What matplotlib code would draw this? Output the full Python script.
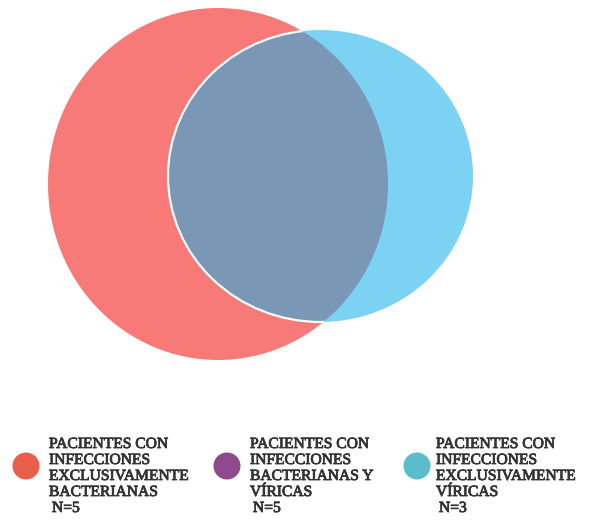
import matplotlib
matplotlib.use("Agg")
import matplotlib.pyplot as plt
import matplotlib.patheffects as pe
from matplotlib.patches import Ellipse, Circle

# groups (Venn: bacterial only, both, viral only)
group_labels = [
    ["PACIENTES CON", "INFECCIONES", "EXCLUSIVAMENTE", "BACTERIANAS"],
    ["PACIENTES CON", "INFECCIONES", "BACTERIANAS Y", "VÍRICAS"],
    ["PACIENTES CON", "INFECCIONES", "EXCLUSIVAMENTE", "VÍRICAS"],
]
group_counts = [5, 5, 3]
legend_colors = ["#e8604c", "#8e4a8c", "#5bbccc"]

red_fill = "#f87a78"
blue_fill = "#7cd2f2"
overlap_fill = "#7b97b6"
text_col = "#333333"

fig = plt.figure(figsize=(5.95, 5.29), dpi=100)
ax = fig.add_axes([0, 0, 1, 1])
ax.set_xlim(0, 595)
ax.set_ylim(529, 0)
ax.set_aspect("equal")
ax.axis("off")

# bacterial set
red = Ellipse((218, 184), 340, 352, facecolor=red_fill, edgecolor="none", zorder=1)
ax.add_patch(red)
# viral set
blue = Ellipse((320.5, 176), 305, 292, facecolor=blue_fill, edgecolor="none", zorder=1)
ax.add_patch(blue)

# overlap = viral clipped by bacterial
ov = Ellipse((320.5, 176), 305, 292, facecolor=overlap_fill, edgecolor="white",
             linewidth=1.6, zorder=2)
ax.add_patch(ov)
ov.set_clip_path(red)

# legend
marker_x = [26, 227, 417]
text_x = [49, 250, 436]
line_h = 16.0
heavy = [pe.withStroke(linewidth=0.6, foreground=text_col)]
for lines, n, col, mx, tx in zip(group_labels, group_counts, legend_colors, marker_x, text_x):
    ax.add_patch(Circle((mx, 466), 13.5, facecolor=col, edgecolor="none", zorder=3))
    for i, ln in enumerate(lines):
        ax.text(tx, 448 + i * line_h, ln, ha="left", va="baseline", fontsize=11.2,
                family="Liberation Serif", color=text_col, path_effects=heavy)
    ax.text(tx + 3, 448 + 4 * line_h, f"N={n}", ha="left", va="baseline", fontsize=11.2,
            family="Liberation Serif", color=text_col, path_effects=heavy)

fig.savefig("out.png", dpi=100)
